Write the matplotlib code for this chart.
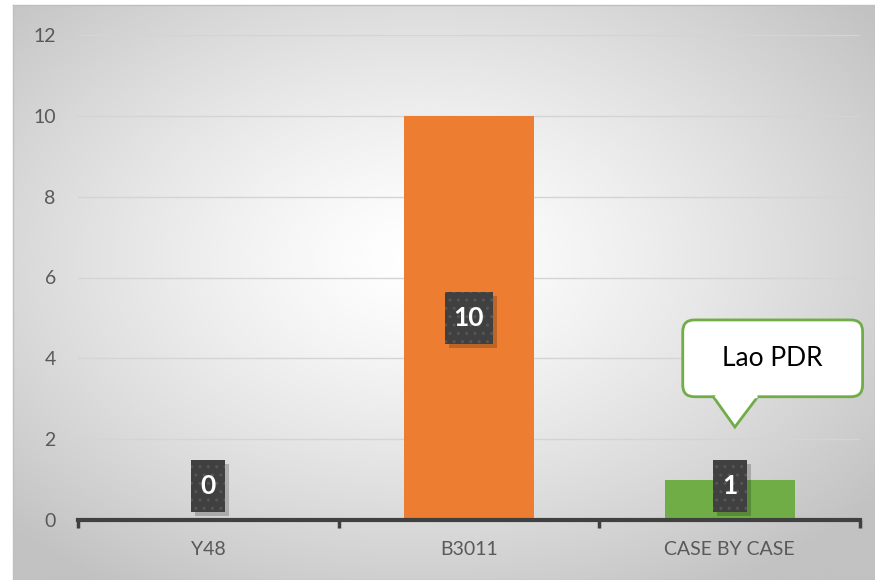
import matplotlib.pyplot as plt
import numpy as np
from matplotlib.patches import Polygon, FancyBboxPatch, Rectangle
from matplotlib.transforms import IdentityTransform, ScaledTranslation

categories = ['Y48', 'B3011', 'CASE BY CASE']
values = [0, 10, 1]
bar_colors = ['#4472c4', '#ed7d31', '#70ad47']
y_ticks = [0, 2, 4, 6, 8, 10, 12]
callout_text = 'Lao PDR'

plt.rcParams['font.family'] = ['Lato', 'DejaVu Sans']

fig = plt.figure(figsize=(8.75, 5.8), dpi=100)

# radial gradient background of the chart area
bg = fig.add_axes([13 / 875, 0, 1 - 13 / 875, 1 - 5 / 580])
yy, xx = np.mgrid[-1:1:300j, -1:1:450j]
r = np.sqrt((xx + 0.05) ** 2 + (yy + 0.12) ** 2) / 1.35
r = np.clip(r, 0, 1)
shade = 1.0 - 0.24 * r ** 1.3
bg.imshow(shade, cmap='gray', vmin=0, vmax=1, aspect='auto',
          extent=[0, 1, 0, 1], interpolation='bicubic')
bg.set_xlim(0, 1)
bg.set_ylim(0, 1)
bg.set_xticks([])
bg.set_yticks([])
for s in bg.spines.values():
    s.set_color('#bfbfbf')
    s.set_linewidth(1)

ax = fig.add_axes([78 / 875, 1 - 520 / 580, (860 - 78) / 875, (520 - 35) / 580])
ax.set_facecolor('none')
x = np.arange(len(categories))
ax.bar(x, values, width=0.5, color=bar_colors, zorder=2)

ax.set_xlim(-0.5, len(categories) - 0.5)
ax.set_ylim(0, 12)
ax.set_yticks(y_ticks)
ax.yaxis.grid(True, color='#d4d4d4', linewidth=1)
ax.set_axisbelow(True)
ax.tick_params(axis='y', length=0, pad=16, labelsize=14, labelcolor='#595959')

ax.set_xticks(x)
ax.set_xticklabels(categories)
ax.set_xticks(np.arange(len(categories) + 1) - 0.5, minor=True)
ax.tick_params(axis='x', which='major', length=0, pad=15, labelsize=14,
               labelcolor='#595959')
ax.tick_params(axis='x', which='minor', length=6, width=2.5, color='#404040',
               direction='out')

for side in ['left', 'right', 'top']:
    ax.spines[side].set_visible(False)
ax.spines['bottom'].set_color('#404040')
ax.spines['bottom'].set_linewidth(3)
ax.spines['bottom'].set_zorder(4)

# data labels: dark boxes with white bold numbers
for xi, v in zip(x, values):
    ly = v / 2 if v > 2 else 0.85
    anchor = IdentityTransform() + ScaledTranslation(xi, ly, ax.transData)
    w = 20 + 14 * len(str(v))
    h = 52
    ax.add_patch(Rectangle((-w / 2 + 4, -h / 2 - 4), w, h, transform=anchor,
                           facecolor='black', alpha=0.2, linewidth=0,
                           zorder=5, clip_on=False))
    ax.add_patch(Rectangle((-w / 2, -h / 2), w, h, transform=anchor,
                           facecolor='#404040', edgecolor='#565656',
                           linewidth=0, hatch='..', zorder=6, clip_on=False))
    ax.text(xi, ly, str(v), ha='center', va='center', fontsize=19,
            fontweight='bold', color='white', zorder=7)

# callout above the last bar
cx = x[-1]
box_left, box_right = cx - 0.18, cx + 0.51
box_bottom, box_top = 3.05, 4.95
box = FancyBboxPatch((box_left, box_bottom), box_right - box_left,
                     box_top - box_bottom,
                     boxstyle='round,pad=0,rounding_size=0.045',
                     mutation_aspect=6.4, facecolor='white',
                     edgecolor='#70ad47', linewidth=2, zorder=8,
                     clip_on=False)
ax.add_patch(box)
pointer = Polygon([[cx - 0.065, box_bottom + 0.02], [cx + 0.02, 2.3],
                   [cx + 0.11, box_bottom + 0.02]], closed=False,
                  facecolor='white', edgecolor='#70ad47', linewidth=2,
                  zorder=9, clip_on=False)
ax.add_patch(pointer)
ax.plot([cx - 0.058, cx + 0.103], [box_bottom + 0.01, box_bottom + 0.01],
        color='white', linewidth=2.5, zorder=10, solid_capstyle='butt',
        clip_on=False)
ax.text((box_left + box_right) / 2, (box_bottom + box_top) / 2, callout_text,
        ha='center', va='center', fontsize=19, color='black', zorder=11)

fig.savefig('out.png', dpi=100)
plt.close()
